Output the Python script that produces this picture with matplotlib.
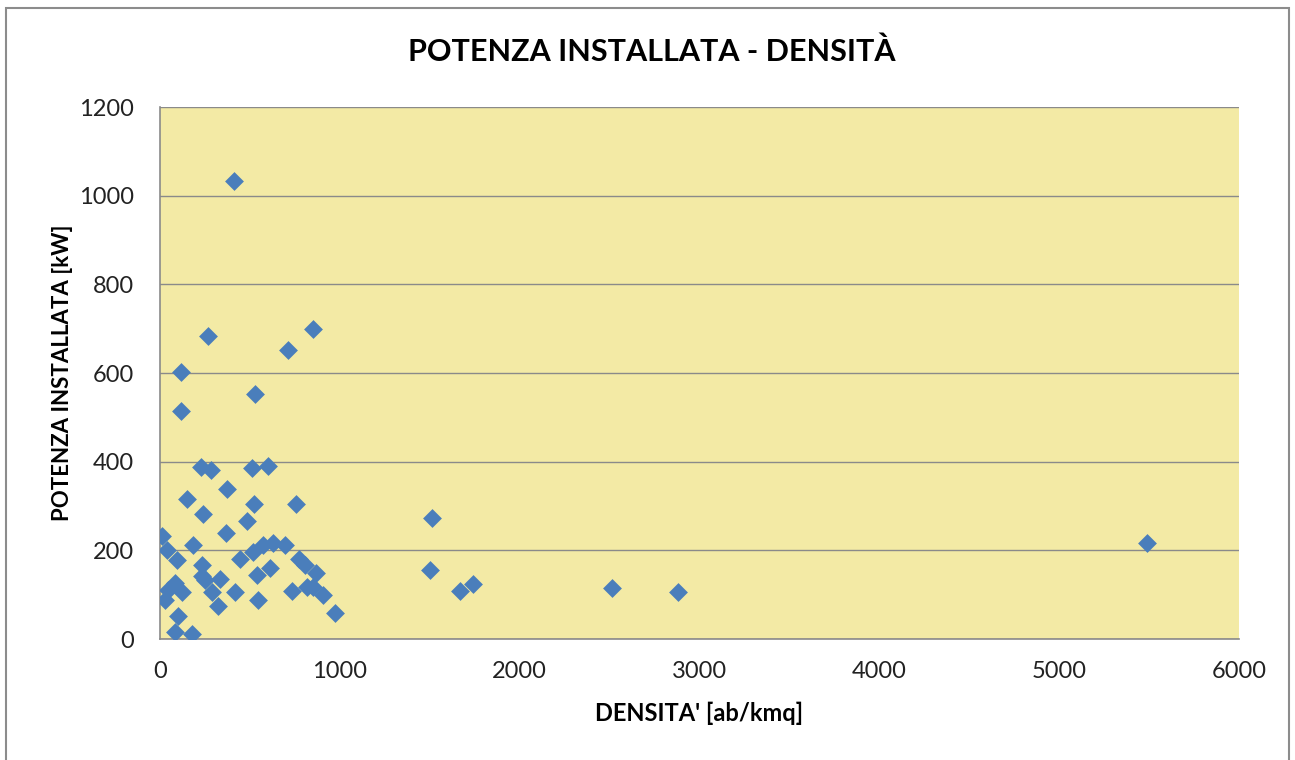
import matplotlib.pyplot as plt
from matplotlib.patches import Rectangle

# densita' [ab/kmq] and potenza installata [kW]
densita = [9, 37, 93, 46, 120, 28, 83, 102, 83, 176,
           115, 115, 148, 183, 228, 283, 264, 237, 231, 231,
           250, 333, 287, 320, 370, 365, 417, 411, 444, 485,
           509, 518, 522, 528, 537, 546, 574, 602, 611, 630,
           694, 713, 731, 756, 775, 815, 806, 848, 852, 865,
           905, 972, 1513, 1502, 1668, 1741, 2511, 2878, 5489]
potenza = [232, 200, 179, 111, 107, 88, 126, 52, 15, 12,
           602, 515, 316, 211, 387, 382, 684, 283, 167, 143,
           132, 135, 107, 75, 338, 240, 106, 1033, 180, 266,
           386, 197, 305, 553, 145, 87, 211, 391, 160, 217,
           212, 651, 109, 304, 180, 117, 167, 700, 118, 148,
           99, 59, 274, 156, 109, 124, 115, 106, 217]

x_ticks = [0, 1000, 2000, 3000, 4000, 5000, 6000]
y_ticks = [0, 200, 400, 600, 800, 1000, 1200]

plt.rcParams['font.family'] = ['Lato', 'DejaVu Sans']

fig = plt.figure(figsize=(12.95, 7.6), dpi=100)
ax = fig.add_axes([0.1236, 0.1592, 0.8332, 0.7000])

# outer chart border
fig.patches.append(Rectangle((0.005, -0.01), 0.99, 1.0, transform=fig.transFigure,
                             fill=False, edgecolor='#8c8c8c', linewidth=1.5))

ax.set_facecolor('#F3EAA5')
ax.scatter(densita, potenza, marker='D', s=92, color='#4A7EBB', linewidths=0, zorder=3)

ax.set_xlim(0, 6000)
ax.set_ylim(0, 1200)
ax.set_xticks(x_ticks)
ax.set_yticks(y_ticks)
ax.yaxis.grid(True, color='#8a8a8a', linewidth=1.0)
ax.set_axisbelow(True)

for side in ['top', 'right']:
    ax.spines[side].set_visible(False)
for side in ['left', 'bottom']:
    ax.spines[side].set_color('#8a8a8a')
    ax.spines[side].set_linewidth(1.2)

ax.tick_params(length=0, labelsize=17, colors='#222222')
ax.tick_params(axis='x', pad=16)
ax.tick_params(axis='y', pad=19)

fig.text(0.503, 0.9316, 'POTENZA INSTALLATA - DENSITÀ', fontsize=22, fontweight='bold',
         ha='center', va='center')
ax.set_xlabel("DENSITA' [ab/kmq]", fontsize=17, fontweight='bold', labelpad=14)
ax.set_ylabel('POTENZA INSTALLATA [kW]', fontsize=16, fontweight='bold', labelpad=4)

fig.savefig('out.png', dpi=100)
